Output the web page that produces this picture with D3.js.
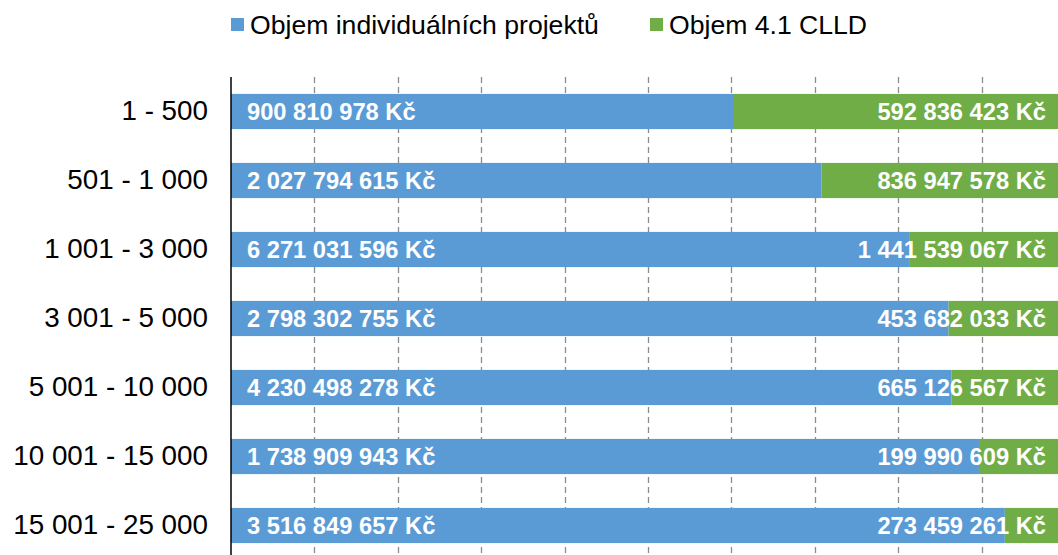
<!DOCTYPE html>
<html>
<head>
<meta charset="utf-8">
<script src="https://cdn.jsdelivr.net/npm/d3@7"></script>
<style>
  body { margin: 0; background: #fff; }
  svg { display: block; font-family: "Liberation Sans", Arial, sans-serif; }
</style>
</head>
<body>
<div id="chart"></div>
<script>
// Categories (population size groups)
const categories = ["1 - 500", "501 - 1 000", "1 001 - 3 000", "3 001 - 5 000",
    "5 001 - 10 000", "10 001 - 15 000", "15 001 - 25 000"];

// Series values in Kč
const individualni = [900810978, 2027794615, 6271031596, 2798302755, 4230498278, 1738909943, 3516849657];
const clld = [592836423, 836947578, 1441539067, 453682033, 665126567, 199990609, 273459261];

const seriesNames = ["Objem individuálních projektů", "Objem 4.1 CLLD"];
const colors = ["#5B9BD5", "#70AD47"];
const gridTicks = [0.1, 0.2, 0.3, 0.4, 0.5, 0.6, 0.7, 0.8, 0.9];

const width = 1058, height = 555;

const svg = d3.select("#chart")
    .append("svg")
    .attr("width", width)
    .attr("height", height);

// 100% stacked scale; the right end lies beyond the visible area
const x = d3.scaleLinear().domain([0, 1]).range([231, 1065]);
const y = d3.scaleBand().domain(categories).range([77, 560]).paddingInner(0.49).paddingOuter(0.245);

const fmt = v => d3.format(",")(v).replace(/,/g, " ") + " Kč";

// Gridlines
svg.append("g")
    .selectAll("line")
    .data(gridTicks)
    .join("line")
    .attr("x1", d => Math.round(x(d)) + 0.5)
    .attr("x2", d => Math.round(x(d)) + 0.5)
    .attr("y1", 77)
    .attr("y2", height)
    .attr("stroke", "#8c8c8c")
    .attr("stroke-width", 1.3)
    .attr("stroke-dasharray", "6,4");

// Build rows
const rows = categories.map((c, i) => {
    const total = individualni[i] + clld[i];
    return { cat: c, a: individualni[i], b: clld[i], share: individualni[i] / total };
});

const g = svg.append("g");

// Blue segments
g.selectAll(".bar-a")
    .data(rows)
    .join("rect")
    .attr("class", "bar-a")
    .attr("x", x(0))
    .attr("y", d => y(d.cat))
    .attr("width", d => x(d.share) - x(0))
    .attr("height", y.bandwidth())
    .attr("fill", colors[0]);

// Green segments
g.selectAll(".bar-b")
    .data(rows)
    .join("rect")
    .attr("class", "bar-b")
    .attr("x", d => x(d.share))
    .attr("y", d => y(d.cat))
    .attr("width", d => x(1) - x(d.share))
    .attr("height", y.bandwidth())
    .attr("fill", colors[1]);

// Data labels
g.selectAll(".lab-a")
    .data(rows)
    .join("text")
    .attr("x", x(0) + 16)
    .attr("y", d => y(d.cat) + y.bandwidth() / 2)
    .attr("dominant-baseline", "central")
    .attr("fill", "#fff")
    .style("font-weight", "bold")
    .style("font-size", "23.7px")
    .text(d => fmt(d.a));

g.selectAll(".lab-b")
    .data(rows)
    .join("text")
    .attr("x", 1046)
    .attr("y", d => y(d.cat) + y.bandwidth() / 2)
    .attr("dominant-baseline", "central")
    .attr("text-anchor", "end")
    .attr("fill", "#fff")
    .style("font-weight", "bold")
    .style("font-size", "23.7px")
    .text(d => fmt(d.b));

// Category axis
const yAxis = svg.append("g")
    .attr("transform", `translate(${x(0)},0)`)
    .call(d3.axisLeft(y).tickSize(0).tickPadding(23));
yAxis.select(".domain").remove();
yAxis.selectAll("text")
    .style("font-size", "27.8px")
    .style("font-family", "'Liberation Sans', Arial, sans-serif")
    .attr("fill", "#000");

svg.append("line")
    .attr("x1", x(0))
    .attr("x2", x(0))
    .attr("y1", 77)
    .attr("y2", height)
    .attr("stroke", "#000")
    .attr("stroke-width", 1.5);

// Legend
const legendX = [231, 650];
const legend = svg.append("g");
seriesNames.forEach((name, i) => {
    legend.append("rect")
        .attr("x", legendX[i])
        .attr("y", 18)
        .attr("width", 13)
        .attr("height", 13)
        .attr("fill", colors[i]);
    legend.append("text")
        .attr("x", legendX[i] + 19)
        .attr("y", 25)
        .attr("dominant-baseline", "central")
        .style("font-size", "26.6px")
        .attr("fill", "#000")
        .text(name);
});
</script>
</body>
</html>
